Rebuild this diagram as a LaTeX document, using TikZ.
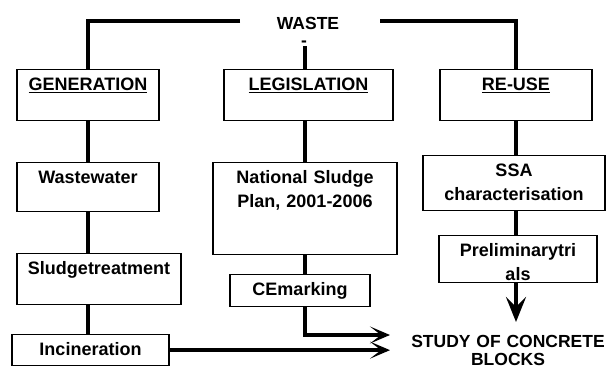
\documentclass[tikz,border=0pt]{standalone}
\usepackage{fontspec}
\setmainfont{Liberation Sans}
\usetikzlibrary{arrows.meta, positioning}

\begin{document}
\begin{tikzpicture}[
    x=1pt, y=-1pt,
    block/.style={rectangle, draw, line width=1.3pt, anchor=north, inner sep=0pt, align=center, text height=21pt, font=\fontsize{18}{24}\selectfont\bfseries},
    link/.style={line width=4.5pt},
    arrow/.style={line width=4.5pt, -{Stealth[length=20pt, width=17pt, inset=11pt]}},
    downarrow/.style={line width=4.5pt, -{Stealth[length=25pt, width=20pt, inset=10pt]}}
]
\useasboundingbox (0,0) rectangle (608,370);


\coordinate (col_a) at (88,0);
\coordinate (col_b) at (305,0);
\coordinate (col_c) at (516,0);
\coordinate (top_left) at (240,21);
\coordinate (top_right) at (380,21);
\coordinate (dash_end) at (305,46);
\coordinate (tip_ce) at (390,335);
\coordinate (tip_pre) at (516,322);


\node[font=\fontsize{17.5}{24}\selectfont\bfseries, inner sep=0pt, text width=80pt, align=center, anchor=base] (waste_text) at (308,29) {WASTE\\[-7pt]\hspace*{-8pt}-};


\node[block, text width=142pt, text depth=30pt] (gen_block) at (88,69) {\underline{GENERATION}};
\node[block, text width=142pt, text depth=28pt] (ww_block) at (88,162) {Wastewater};
\node[block, text width=164pt, text depth=30pt] (sludge_block) at (99,253) {Sludgetreatment};
\node[block, text width=157pt, text depth=10pt] (incin_block) at (90.5,334) {Incineration};


\node[block, text width=169pt, text depth=30pt] (leg_block) at (308.5,69) {\underline{LEGISLATION}};
\node[block, text width=184pt, text depth=71pt] (nat_block) at (305,162) {National Sludge\\Plan, 2001-2006};
\node[block, text width=140pt, text depth=11pt] (ce_block) at (300,274) {CEmarking};


\node[block, text width=152pt, text depth=30pt] (reuse_block) at (516,69) {\underline{RE-USE}};
\node[block, text width=182pt, text depth=34pt] (ssa_block) at (514,155) {SSA\\characterisation};
\node[block, text width=158pt, text depth=26pt] (pre_block) at (518,235) {Preliminarytri\\als};


\node[font=\fontsize{17.5}{18}\selectfont\bfseries, inner sep=0pt, text width=200pt, align=center, anchor=base] (study_text) at (508,347) {STUDY OF CONCRETE\\BLOCKS};


\draw[link] (top_left) -| (gen_block.north);
\draw[link] (top_right) -| (reuse_block.north);
\draw[link] (dash_end) -- (dash_end |- leg_block.north);


\draw[link] (gen_block.south) -- (ww_block.north);
\draw[link] (ww_block.south) -- (sludge_block.north -| col_a);
\draw[link] (sludge_block.south -| col_a) -- (incin_block.north -| col_a);


\draw[link] (leg_block.south -| col_b) -- (nat_block.north -| col_b);
\draw[link] (nat_block.south -| col_b) -- (ce_block.north -| col_b);


\draw[link] (reuse_block.south -| col_c) -- (ssa_block.north -| col_c);
\draw[link] (ssa_block.south -| col_c) -- (pre_block.north -| col_c);


\draw[arrow] (ce_block.south -| col_b) |- (tip_ce);
\draw[arrow] (incin_block.east) -- (incin_block.east -| tip_ce);
\draw[downarrow] (pre_block.south -| col_c) -- (tip_pre);

\end{tikzpicture}
\end{document}
